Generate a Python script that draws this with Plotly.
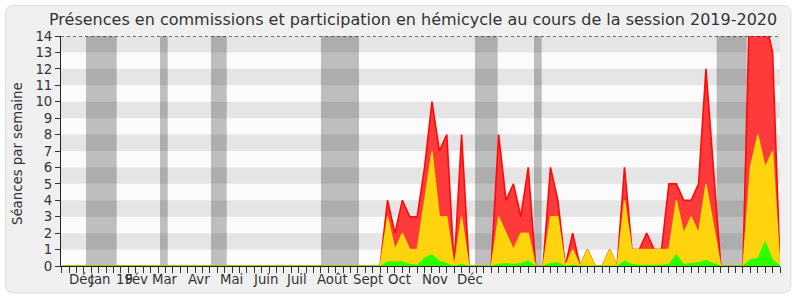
import plotly.graph_objects as go

# ---------------- data (weekly) ----------------
weeks = list(range(0, 98))

# top of red area: total attendance (commission + hémicycle)
total = [0, 0, 0, 0, 0, 0, 0, 0, 0, 0,
         0, 0, 0, 0, 0, 0, 0, 0, 0, 0,
         0, 0, 0, 0, 0, 0, 0, 0, 0, 0,
         0, 0, 0, 0, 0, 0, 0, 0, 0, 0,
         0, 0, 0, 0, 4, 2, 4, 3, 3, 6,
         10, 7, 8, 0, 8, 0, 0, 0, 0, 8,
         4, 5, 3, 6, 0, 0, 6, 4, 0, 2,
         0, 1, 0, 0, 1, 0, 6, 1, 1, 2,
         1, 1, 5, 5, 4, 4, 5, 12, 6, 0,
         0, 0, 0, 18, 17, 15, 13, 0]

# top of yellow area: hémicycle
hemicycle = [0, 0, 0, 0, 0, 0, 0, 0, 0, 0,
             0, 0, 0, 0, 0, 0, 0, 0, 0, 0,
             0, 0, 0, 0, 0, 0, 0, 0, 0, 0,
             0, 0, 0, 0, 0, 0, 0, 0, 0, 0,
             0, 0, 0, 0, 3, 1, 2, 1, 1, 4,
             7, 3, 3, 0, 3, 0, 0, 0, 0, 3,
             2, 1, 2, 2, 0, 0, 3, 3, 0, 1,
             0, 1, 0, 0, 1, 0, 4, 1, 1, 1,
             1, 1, 1, 4, 2, 3, 2, 5, 2.5, 0,
             0, 0, 0, 6, 8, 6, 7, 0]

# top of green area: interventions
interventions = [0, 0, 0, 0, 0, 0, 0, 0, 0, 0,
                 0, 0, 0, 0, 0, 0, 0, 0, 0, 0,
                 0, 0, 0, 0, 0, 0, 0, 0, 0, 0,
                 0, 0, 0, 0, 0, 0, 0, 0, 0, 0,
                 0, 0, 0, 0, 0.25, 0.25, 0.25, 0.1, 0.05, 0.5,
                 0.7, 0.3, 0.15, 0, 0.1, 0, 0, 0, 0, 0.1,
                 0.15, 0.1, 0.15, 0.3, 0, 0, 0.15, 0.2, 0, 0.05,
                 0, 0, 0, 0, 0, 0, 0.3, 0.1, 0.05, 0.05,
                 0.05, 0.05, 0.1, 0.7, 0.1, 0.15, 0.2, 0.35, 0.15, 0,
                 0, 0, 0, 0.4, 0.45, 1.5, 0.4, 0]

# parliamentary holidays (start week, end week)
holidays = [(3.28, 7.42), (13.27, 14.31), (20.16, 22.28), (35.01, 40.14),
            (55.81, 58.87), (63.78, 64.82), (88.45, 92.5)]

month_labels = ["Déc", "Jan", "19", "Fév", "Mar", "Avr", "Mai", "Juin", "Juil",
                "Août", "Sept", "Oct", "Nov", "Déc"]
month_pos = [2.74, 5.17, 8.41, 10.16, 13.94, 18.54, 22.99, 27.58, 31.64,
             36.50, 41.36, 45.68, 50.41, 55.13]

y_ticks = list(range(0, 15))

title = "Présences en commissions et participation en hémicycle au cours de la session 2019-2020"
y_title = "Séances par semaine"

# ---------------- layout geometry ----------------
W, H = 800, 300
L, R, T, B = 61, 20, 36, 34
pw, ph = W - L - R, H - T - B
XR = [-0.1, 97]

def px2paper_x(px):
    return (px - L) / pw

def px2paper_y(py):
    return (H - B - py) / ph

FONT = "DejaVu Sans"
TXT = "#333333"

fig = go.Figure()

fig.add_trace(go.Scatter(x=weeks, y=total, mode="lines", fill="tozeroy",
                         fillcolor="#ff3a3a", line=dict(color="#ff0a0a", width=1.6),
                         hoverinfo="skip", showlegend=False))
fig.add_trace(go.Scatter(x=weeks, y=hemicycle, mode="lines", fill="tozeroy",
                         fillcolor="#ffd40f", line=dict(color="rgba(255,240,0,0.7)", width=1.4),
                         hoverinfo="skip", showlegend=False))
fig.add_trace(go.Scatter(x=weeks, y=interventions, mode="lines", fill="tozeroy",
                         fillcolor="#2eff00", line=dict(color="#2eff00", width=1),
                         hoverinfo="skip", showlegend=False))

shapes = []
# outer rounded frame
x0, y0, x1, y1, r = 5.5, 5.5, 791, 293, 8
path = (f"M {px2paper_x(x0 + r)},{px2paper_y(y0)} L {px2paper_x(x1 - r)},{px2paper_y(y0)} "
        f"Q {px2paper_x(x1)},{px2paper_y(y0)} {px2paper_x(x1)},{px2paper_y(y0 + r)} "
        f"L {px2paper_x(x1)},{px2paper_y(y1 - r)} "
        f"Q {px2paper_x(x1)},{px2paper_y(y1)} {px2paper_x(x1 - r)},{px2paper_y(y1)} "
        f"L {px2paper_x(x0 + r)},{px2paper_y(y1)} "
        f"Q {px2paper_x(x0)},{px2paper_y(y1)} {px2paper_x(x0)},{px2paper_y(y1 - r)} "
        f"L {px2paper_x(x0)},{px2paper_y(y0 + r)} "
        f"Q {px2paper_x(x0)},{px2paper_y(y0)} {px2paper_x(x0 + r)},{px2paper_y(y0)} Z")
shapes.append(dict(type="path", path=path, xref="paper", yref="paper",
                   fillcolor="#f0f0f0", line=dict(color="#dedede", width=1), layer="below"))

# plot-area background
shapes.append(dict(type="rect", xref="x", yref="y", x0=XR[0], x1=XR[1], y0=0, y1=14,
                   fillcolor="#fbfbfb", line=dict(width=0), layer="below"))
# holidays
for a, b in holidays:
    shapes.append(dict(type="rect", xref="x", yref="y", x0=a, x1=b, y0=0, y1=14,
                       fillcolor="#bebebe", line=dict(width=0), layer="below"))
# horizontal stripes
for v in y_ticks[1:-1:2]:
    shapes.append(dict(type="rect", xref="x", yref="y", x0=XR[0], x1=XR[1], y0=v, y1=v + 1,
                       fillcolor="rgba(0,0,0,0.085)", line=dict(width=0), layer="below"))
# top dotted line
shapes.append(dict(type="line", xref="x", yref="y", x0=XR[0], x1=XR[1], y0=14, y1=14,
                   line=dict(color="#000000", width=1, dash="dot"), layer="above"))

annotations = []
annotations.append(dict(text=title, xref="paper", yref="paper", x=px2paper_x(413),
                        y=px2paper_y(20), xanchor="center", yanchor="middle",
                        showarrow=False, font=dict(family=FONT, size=16, color=TXT)))
annotations.append(dict(text=y_title, xref="paper", yref="paper", x=px2paper_x(17),
                        y=px2paper_y(154), xanchor="center", yanchor="middle", textangle=-90,
                        showarrow=False, font=dict(family=FONT, size=13.3, color=TXT)))
for lab, pos in zip(month_labels, month_pos):
    annotations.append(dict(text=lab, xref="x", yref="paper", x=pos, y=px2paper_y(279),
                            xanchor="center", yanchor="middle", showarrow=False,
                            font=dict(family=FONT, size=13.3, color=TXT)))

fig.update_layout(
    width=W, height=H,
    margin=dict(l=L, r=R, t=T, b=B, pad=0),
    paper_bgcolor="#ffffff",
    plot_bgcolor="#fbfbfb",
    shapes=shapes,
    annotations=annotations,
    font=dict(family=FONT, size=13.3, color=TXT),
    hovermode=False,
    xaxis=dict(range=XR, showgrid=False, zeroline=False,
               showline=True, linecolor="#222222", linewidth=1,
               tickmode="linear", tick0=0, dtick=1, ticks="outside", ticklen=6,
               tickcolor="#333333", tickwidth=1, showticklabels=False, fixedrange=True),
    yaxis=dict(range=[0, 14], showgrid=False, zeroline=False,
               showline=True, linecolor="#222222", linewidth=1,
               tickmode="array", tickvals=y_ticks, ticktext=[str(v) for v in y_ticks],
               ticks="outside", ticklen=5, tickcolor="#333333", tickwidth=1,
               tickfont=dict(family=FONT, size=13.3, color=TXT), fixedrange=True),
)

fig.write_html("out.html")
